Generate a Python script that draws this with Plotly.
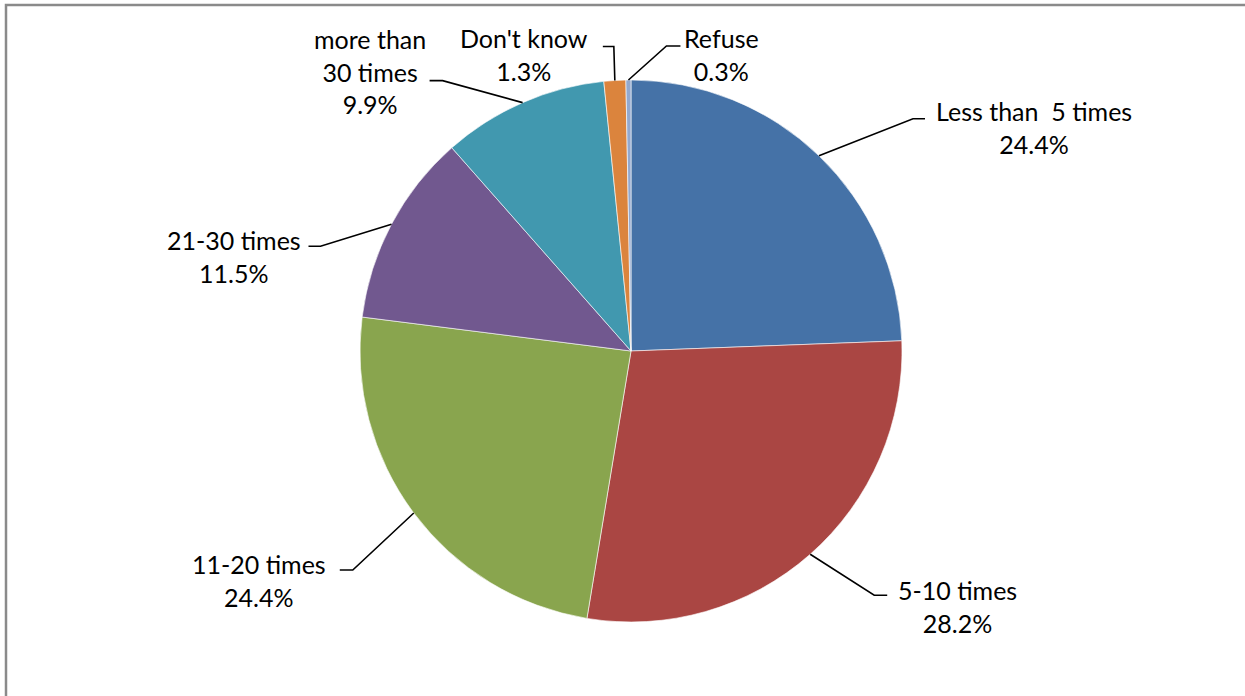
import math
import plotly.graph_objects as go

# ---- data ----
categories = ["Less than  5 times", "5-10 times", "11-20 times", "21-30 times",
              "more than<br>30 times", "Don't know", "Refuse"]
percent_labels = ["24.4%", "28.2%", "24.4%", "11.5%", "9.9%", "1.3%", "0.3%"]
values = [24.4, 28.2, 24.4, 11.5, 9.9, 1.3, 0.3]

# ---- style ----
colors = ["#4572A7", "#AA4643", "#89A54E", "#71588F", "#4198AF", "#DB843D", "#93A9CF"]
W, H = 1245, 696
CX, CY, R = 631, 351, 271          # pie centre / radius in pixels
FONT = dict(family="Lato, Open Sans, sans-serif", size=25, color="#000000")

# label placement relative to the point where the leader line leaves the slice
# (elbow dx, elbow dy, horizontal segment dx, text-centre dx, text-centre dy)
label_offsets = [
    (94, -37, 12, 215, -28),
    (64, 41, 13, 147, 52),
    (-61, 57, -13, -155, 67),
    (-71, 22, -12, -157, 32),
    (-80, -22, -13, -153, -31),
    (-1, -34, -11, -91, -26),
    (38, -34, 14, 93, -26),
]

def to_paper(px, py):
    return px / W, 1 - py / H

fig = go.Figure()
fig.add_trace(go.Pie(
    labels=[c.replace("<br>", " ") for c in categories],
    values=values,
    sort=False,
    direction="clockwise",
    rotation=0,
    marker=dict(colors=colors, line=dict(color="rgba(255,255,255,0.6)", width=1)),
    textinfo="none",
    hoverinfo="label+percent",
    showlegend=False,
    domain=dict(x=[(CX - R) / W, (CX + R) / W], y=[1 - (CY + R) / H, 1 - (CY - R) / H]),
))

total = sum(values)
cum = 0.0
shapes = []
annotations = []
for cat, pct, v, off in zip(categories, percent_labels, values, label_offsets):
    mid = (cum + v / 2) / total * 2 * math.pi
    cum += v
    ex = CX + R * math.sin(mid)
    ey = CY - R * math.cos(mid)
    edx, edy, sdx, tdx, tdy = off
    bx, by = ex + edx, ey + edy
    hx = bx + sdx
    p0 = to_paper(ex, ey)
    p1 = to_paper(bx, by)
    p2 = to_paper(hx, by)
    shapes.append(dict(
        type="path", xref="paper", yref="paper",
        path=f"M {p0[0]} {p0[1]} L {p1[0]} {p1[1]} L {p2[0]} {p2[1]}",
        line=dict(color="#000000", width=1.6),
    ))
    tx, ty = to_paper(ex + tdx, ey + tdy)
    annotations.append(dict(
        x=tx, y=ty, xref="paper", yref="paper",
        text=f"{cat}<br>{pct}", showarrow=False,
        xanchor="center", yanchor="middle", align="center",
        font=FONT,
    ))

# outer chart border (Excel chart area frame)
shapes.append(dict(
    type="rect", xref="paper", yref="paper",
    x0=6 / W, x1=1.05, y0=-0.05, y1=1 - 5 / H,
    line=dict(color="#8a8a8a", width=2.5), fillcolor="rgba(0,0,0,0)",
))

fig.update_layout(
    width=W, height=H,
    margin=dict(l=0, r=0, t=0, b=0),
    paper_bgcolor="#ffffff",
    plot_bgcolor="#ffffff",
    shapes=shapes,
    annotations=annotations,
)

fig.write_html(
    "out.html",
    config={"displayModeBar": False},
    post_script="document.body.style.margin='0';document.body.style.overflow='hidden';",
)
